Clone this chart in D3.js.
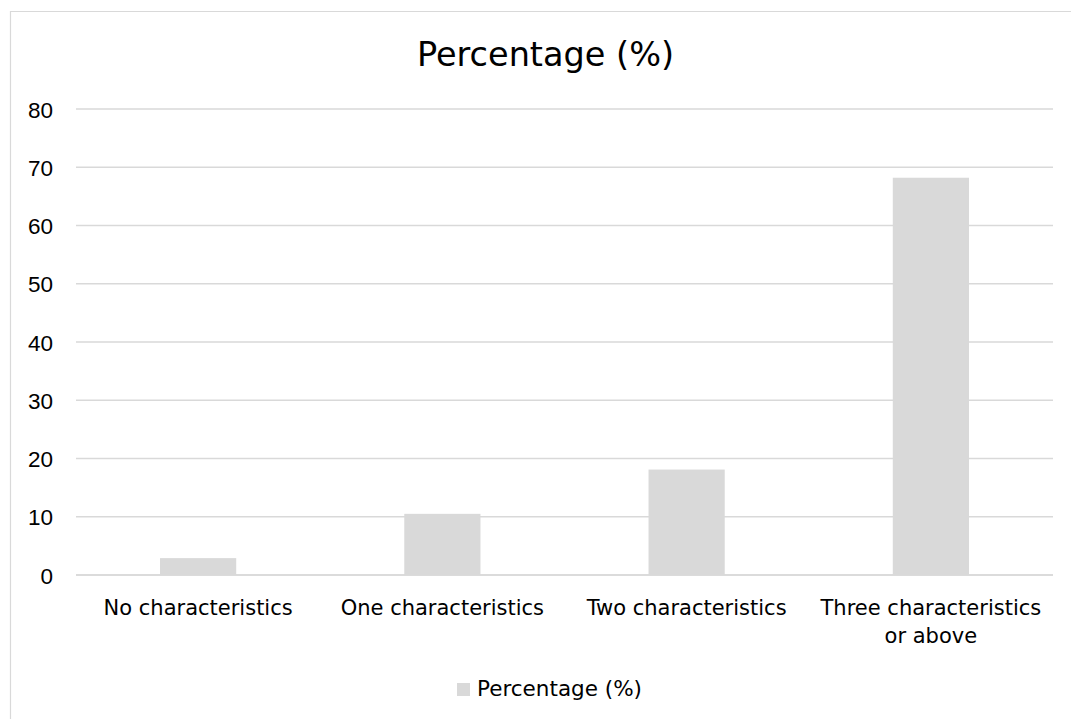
<!DOCTYPE html>
<html>
<head>
<meta charset="utf-8">
<script src="https://cdn.jsdelivr.net/npm/d3@7"></script>
<style>
  html, body { margin: 0; padding: 0; background: #fff; }
  svg { display: block; font-family: "DejaVu Sans", sans-serif; }
</style>
</head>
<body>
<svg id="chart" width="1071" height="719"></svg>
<script>
const categories = ["No characteristics", "One characteristics", "Two characteristics", "Three characteristics or above"];
const categoryLines = [["No characteristics"], ["One characteristics"], ["Two characteristics"], ["Three characteristics", "or above"]];
const values = [2.9, 10.5, 18.1, 68.2];
const yTicks = [0, 10, 20, 30, 40, 50, 60, 70, 80];
const seriesName = "Percentage (%)";
const chartTitle = "Percentage (%)";

const svg = d3.select("#chart");
const W = 1071, H = 719;
const plot = { left: 76, right: 1053, top: 109, bottom: 575 };
const barColor = "#d9d9d9", gridColor = "#d9d9d9", textColor = "#000";

// outer chart border (top and left visible)
svg.append("line").attr("x1", 10).attr("x2", W).attr("y1", 11.5).attr("y2", 11.5)
  .attr("stroke", "#d9d9d9").attr("stroke-width", 1.2);
svg.append("line").attr("x1", 10.5).attr("x2", 10.5).attr("y1", 11).attr("y2", H)
  .attr("stroke", "#d9d9d9").attr("stroke-width", 1.2);

const x = d3.scaleBand().domain(categories).range([plot.left, plot.right]).paddingInner(0.688).paddingOuter(0.344);
const y = d3.scaleLinear().domain([0, 80]).range([plot.bottom, plot.top]);

// gridlines
svg.append("g").selectAll("line").data(yTicks).join("line")
  .attr("x1", plot.left).attr("x2", plot.right)
  .attr("y1", d => y(d)).attr("y2", d => y(d))
  .attr("stroke", gridColor).attr("stroke-width", 1.5);

// y axis labels
const yAxis = d3.axisLeft(y).tickValues(yTicks).tickSize(0).tickPadding(0);
const gy = svg.append("g").attr("transform", `translate(53,0)`).call(yAxis);
gy.select(".domain").remove();
gy.selectAll("text").attr("font-size", 22.5).attr("fill", textColor)
  .style("font-family", "inherit").attr("dy", "0.36em");

// bars
svg.append("g").selectAll("rect").data(values).join("rect")
  .attr("x", (d, i) => x(categories[i]))
  .attr("width", x.bandwidth())
  .attr("y", d => y(d))
  .attr("height", d => y(0) - y(d))
  .attr("fill", barColor);

// x axis line
svg.append("line").attr("x1", plot.left).attr("x2", plot.right)
  .attr("y1", y(0)).attr("y2", y(0)).attr("stroke", gridColor).attr("stroke-width", 1.5);

// category labels
const xl = svg.append("g");
categories.forEach((c, i) => {
  const t = xl.append("text")
    .attr("x", x(c) + x.bandwidth() / 2)
    .attr("y", 615)
    .attr("text-anchor", "middle")
    .attr("font-size", 21).attr("fill", textColor);
  categoryLines[i].forEach((line, j) => {
    t.append("tspan").attr("x", x(c) + x.bandwidth() / 2).attr("dy", j === 0 ? 0 : 28).text(line);
  });
});

// title
svg.append("text").attr("x", 545.5).attr("y", 66).attr("text-anchor", "middle")
  .attr("font-size", 33.5).attr("fill", textColor).text(chartTitle);

// legend
svg.append("rect").attr("x", 457).attr("y", 683).attr("width", 13).attr("height", 13).attr("fill", barColor);
svg.append("text").attr("x", 477).attr("y", 696).attr("font-size", 21.5).attr("fill", textColor).text(seriesName);
</script>
</body>
</html>
